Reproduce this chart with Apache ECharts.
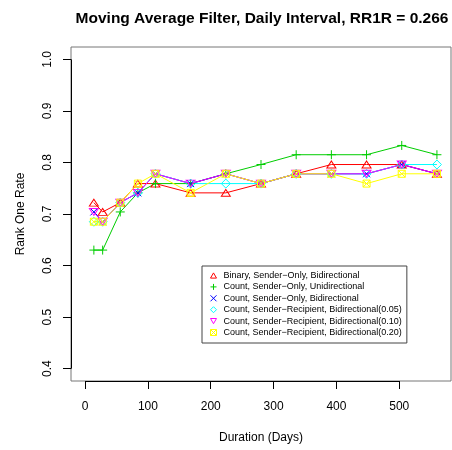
<!DOCTYPE html>
<html><head><meta charset="utf-8">
<script src="https://cdn.jsdelivr.net/npm/echarts@6/dist/echarts.min.js"></script>
<style>html,body{margin:0;padding:0;background:#fff}#c{width:452px;height:450px}</style>
</head><body><div id="c"></div>
<script>
// ---- data ----
const days = [14, 28, 56, 84, 112, 168, 224, 280, 336, 392, 448, 504, 560];
const binarySenderOnlyBi   = [0.722, 0.704, 0.722, 0.759, 0.759, 0.741, 0.741, 0.759, 0.778, 0.796, 0.796, 0.796, 0.778];
const countSenderOnlyUni   = [0.630, 0.630, 0.704, 0.741, 0.759, 0.759, 0.778, 0.796, 0.815, 0.815, 0.815, 0.833, 0.815];
const countSenderOnlyBi    = [0.704, 0.685, 0.722, 0.741, 0.778, 0.759, 0.778, 0.759, 0.778, 0.778, 0.778, 0.796, 0.778];
const countSenderRecip005  = [0.685, 0.685, 0.722, 0.741, 0.778, 0.759, 0.759, 0.759, 0.778, 0.778, 0.778, 0.796, 0.796];
const countSenderRecip010  = [0.704, 0.685, 0.722, 0.741, 0.778, 0.759, 0.778, 0.759, 0.778, 0.778, 0.778, 0.796, 0.778];
const countSenderRecip020  = [0.685, 0.685, 0.722, 0.759, 0.778, 0.741, 0.778, 0.759, 0.778, 0.778, 0.759, 0.778, 0.778];
const seriesNames = [
  'Binary, Sender\u2212Only, Bidirectional',
  'Count, Sender\u2212Only, Unidirectional',
  'Count, Sender\u2212Only, Bidirectional',
  'Count, Sender\u2212Recipient, Bidirectional(0.05)',
  'Count, Sender\u2212Recipient, Bidirectional(0.10)',
  'Count, Sender\u2212Recipient, Bidirectional(0.20)'
];
const xTicks = [0, 100, 200, 300, 400, 500];
const yTicks = [0.4, 0.5, 0.6, 0.7, 0.8, 0.9, 1.0];
const titleText = 'Moving Average Filter, Daily Interval, RR1R = 0.266';

// ---- styling ----
const colors = ['#FF0000', '#00CD00', '#0000FF', '#00FFFF', '#FF00FF', '#FFFF00'];
const symbols = [
  'path://M5,0L10,8.66L0,8.66Z',
  'path://M5,0L5,10M0,5L10,5',
  'path://M0,0L10,10M10,0L0,10',
  'path://M5,0L10,5L5,10L0,5Z',
  'path://M0,0L10,0L5,8.66Z',
  'path://M0,0L10,0L10,10L0,10ZM0,0L10,10M10,0L0,10'
];
const symSizes = [[9, 8], 9, 7, [9, 9], [9, 8], 7];
const allValues = [binarySenderOnlyBi, countSenderOnlyUni, countSenderOnlyBi, countSenderRecip005, countSenderRecip010, countSenderRecip020];

const font = 'Liberation Sans, Arial, Helvetica, sans-serif';
const xMin = -22.4, xMax = 582.4, yMin = 0.376, yMax = 1.024;

const series = allValues.map((vals, i) => ({
  name: seriesNames[i],
  type: 'line',
  data: days.map((d, j) => [d, vals[j]]),
  symbol: symbols[i],
  symbolSize: symSizes[i],
  symbolKeepAspect: true,
  showAllSymbol: true,
  lineStyle: { color: colors[i], width: 1 },
  itemStyle: { color: 'rgba(0,0,0,0)', borderColor: colors[i], borderWidth: 1 },
  emphasis: { disabled: true },
  animation: false
}));

series.push({
  type: 'custom',
  silent: true,
  clip: false,
  z: 5,
  data: [[xTicks[0], yTicks[0]]],
  renderItem(params, api) {
    const cs = params.coordSys;
    const p0 = api.coord([xTicks[0], yTicks[0]]);
    const p1 = api.coord([xTicks[xTicks.length - 1], yTicks[yTicks.length - 1]]);
    const bottom = Math.round(cs.y + cs.height) + 0.5;
    const left = Math.round(cs.x) + 0.5;
    return { type: 'group', children: [
      { type: 'line', shape: { x1: p0[0], y1: bottom, x2: p1[0], y2: bottom }, style: { stroke: '#000', lineWidth: 1 } },
      { type: 'line', shape: { x1: left, y1: p0[1], x2: left, y2: p1[1] }, style: { stroke: '#000', lineWidth: 1 } }
    ]};
  }
});

const chart = echarts.init(document.getElementById('c'), null, { renderer: 'canvas' });
chart.setOption({
  animation: false,
  backgroundColor: '#fff',
  textStyle: { fontFamily: font, color: '#000' },
  title: {
    text: titleText,
    left: 257, top: 6, textAlign: 'center',
    textStyle: { fontFamily: font, fontSize: 15.5, fontWeight: 'bold', color: '#000' }
  },
  grid: { left: 71, top: 47, right: 1, bottom: 69, show: true, borderColor: '#777', borderWidth: 1, containLabel: false },
  xAxis: {
    type: 'value', min: xMin, max: xMax,
    name: 'Duration (Days)', nameLocation: 'middle', nameGap: 51,
    nameTextStyle: { fontFamily: font, fontSize: 12, color: '#000' },
    axisLine: { show: false, onZero: false },
    axisTick: { show: true, inside: false, length: 8, customValues: xTicks, lineStyle: { color: '#000' } },
    axisLabel: { customValues: xTicks, margin: 20, fontFamily: font, fontSize: 12, color: '#000' },
    splitLine: { show: false }
  },
  yAxis: {
    type: 'value', min: yMin, max: yMax,
    name: 'Rank One Rate', nameLocation: 'middle', nameGap: 44,
    nameTextStyle: { fontFamily: font, fontSize: 12, color: '#000' },
    axisLine: { show: false, onZero: false },
    axisTick: { show: true, inside: false, length: 8, customValues: yTicks, lineStyle: { color: '#000' } },
    axisLabel: { customValues: yTicks, rotate: 90, margin: 17, fontFamily: font, fontSize: 12, color: '#000',
      formatter: v => v.toFixed(1) },
    splitLine: { show: false }
  },
  legend: {
    orient: 'vertical', left: 202, top: 266,
    padding: [5, 5, 6, 8],
    itemWidth: 6, itemHeight: 6, itemGap: 2.4,
    selectedMode: false,
    backgroundColor: '#fff', borderColor: '#444', borderWidth: 1,
    textStyle: { fontFamily: font, fontSize: 9, color: '#000', padding: [0, 0, 0, 2] },
    data: seriesNames.map((n, i) => ({
      name: n, icon: symbols[i],
      itemStyle: { color: 'rgba(0,0,0,0)', borderColor: colors[i], borderWidth: 1 }
    }))
  },
  series
});
</script></body></html>
